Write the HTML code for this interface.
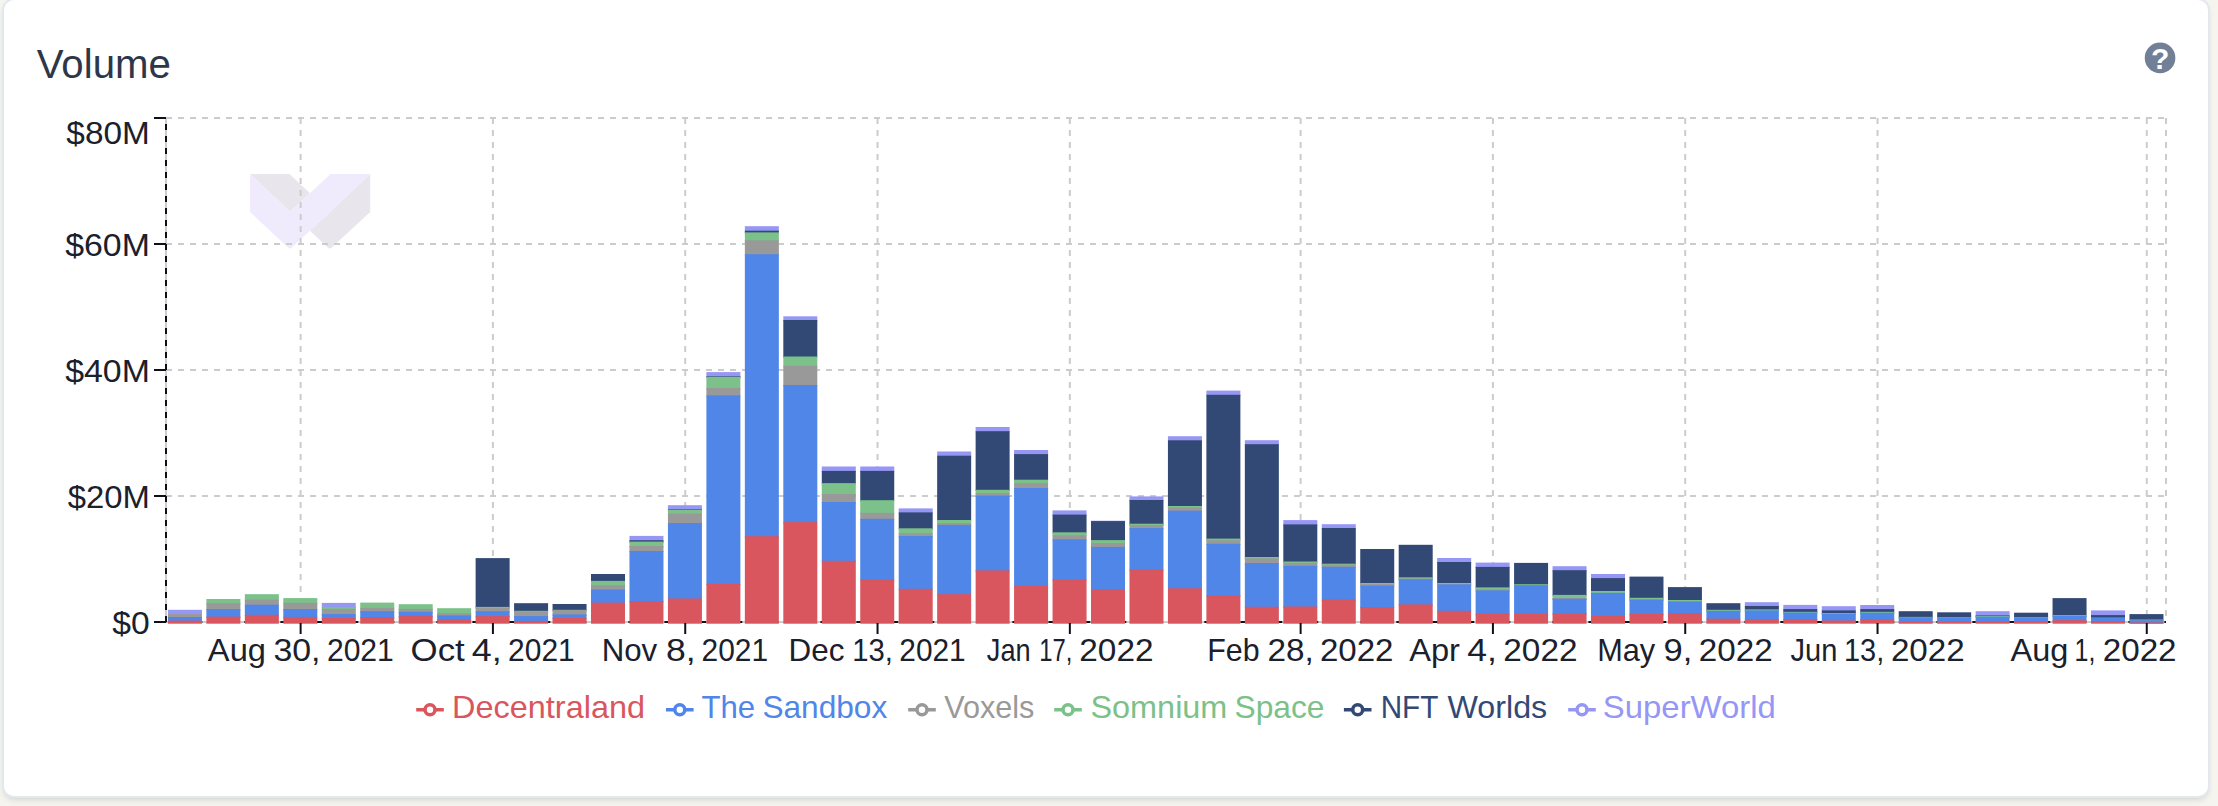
<!DOCTYPE html>
<html lang="en"><head><meta charset="utf-8"><title>Volume</title>
<style>
html,body{margin:0;padding:0}
body{width:2218px;height:806px;overflow:hidden;background:#f6f4ee;position:relative;font-family:"Liberation Sans",sans-serif}
.card{position:absolute;left:2px;top:-2px;width:2204px;height:796px;background:#fff;border:2px solid #e2e8f0;border-radius:12px;
box-shadow:0 4px 7px -2px rgba(0,0,0,.11),0 2px 4px -2px rgba(0,0,0,.06)}
svg{position:absolute;left:0;top:0}
text{font-family:"Liberation Sans",sans-serif}
</style></head><body>
<div class="card"></div>
<svg width="2218" height="806" viewBox="0 0 2218 806">
<text font-size="41" y="77.9" fill="#2d3748"><tspan x="36.77" textLength="134.13" lengthAdjust="spacingAndGlyphs">Volume</tspan></text>
<g><circle cx="2160.05" cy="57.9" r="15.3" fill="#718096"/>
<text x="2160.2" y="69.3" font-size="30" font-weight="bold" fill="#fff" text-anchor="middle">?</text></g>
<g id="wm">
<path d="M250.1,174 L289.5,174 L310,193.2 L289.9,211.8 Z" fill="#e8e6ec"/>
<path d="M370.2,174 L370.2,212.1 L331.5,247.8 Q329.8,249.4 328.1,247.8 L310,230.7 Z" fill="#e8e6ec"/>
<path d="M250.1,174 L289.9,211.8 L310,193.2 L330.5,174 L370.2,174 L310,230.7 L291.6,247.8 Q289.9,249.4 288.2,247.8 L250.1,212.1 Z" fill="#efebfd"/>
</g>
<g stroke="#cccccc" stroke-width="2" stroke-dasharray="6 6" fill="none">
<line x1="166.0" y1="118" x2="2166.0" y2="118"/>
<line x1="166.0" y1="244" x2="2166.0" y2="244"/>
<line x1="166.0" y1="370" x2="2166.0" y2="370"/>
<line x1="166.0" y1="496" x2="2166.0" y2="496"/>
<line x1="166.0" y1="622" x2="2166.0" y2="622"/>
<line x1="166.00" y1="118" x2="166.00" y2="622"/>
<line x1="300.62" y1="118" x2="300.62" y2="622"/>
<line x1="492.92" y1="118" x2="492.92" y2="622"/>
<line x1="685.23" y1="118" x2="685.23" y2="622"/>
<line x1="877.54" y1="118" x2="877.54" y2="622"/>
<line x1="1069.85" y1="118" x2="1069.85" y2="622"/>
<line x1="1300.62" y1="118" x2="1300.62" y2="622"/>
<line x1="1492.92" y1="118" x2="1492.92" y2="622"/>
<line x1="1685.23" y1="118" x2="1685.23" y2="622"/>
<line x1="1877.54" y1="118" x2="1877.54" y2="622"/>
<line x1="2146.77" y1="118" x2="2146.77" y2="622"/>
<line x1="2166.00" y1="118" x2="2166.00" y2="622"/>
</g>
<g stroke="#0d1117" stroke-width="2" fill="none">
<line x1="166" y1="622" x2="166" y2="118" stroke-dasharray="6 6"/>
<line x1="166" y1="622" x2="2166" y2="622" stroke-dasharray="6 6" stroke-dashoffset="5.7"/>
<line x1="154" y1="118" x2="166" y2="118"/>
<line x1="154" y1="244" x2="166" y2="244"/>
<line x1="154" y1="370" x2="166" y2="370"/>
<line x1="154" y1="496" x2="166" y2="496"/>
<line x1="154" y1="622" x2="166" y2="622"/>
</g>
<g>
<rect x="167.93" y="609.80" width="34.00" height="5.50" fill="#9696f5"/>
<rect x="167.93" y="614.10" width="34.00" height="4.10" fill="#999999"/>
<rect x="167.93" y="617.00" width="34.00" height="4.80" fill="#4f86e8"/>
<rect x="167.93" y="620.60" width="34.00" height="3.10" fill="#d9565e"/>
<rect x="206.39" y="599.00" width="34.00" height="5.50" fill="#7bc189"/>
<rect x="206.39" y="603.30" width="34.00" height="7.00" fill="#999999"/>
<rect x="206.39" y="609.10" width="34.00" height="8.70" fill="#4f86e8"/>
<rect x="206.39" y="616.60" width="34.00" height="7.10" fill="#d9565e"/>
<rect x="244.85" y="594.20" width="34.00" height="6.70" fill="#7bc189"/>
<rect x="244.85" y="599.70" width="34.00" height="6.20" fill="#999999"/>
<rect x="244.85" y="604.70" width="34.00" height="11.30" fill="#4f86e8"/>
<rect x="244.85" y="614.80" width="34.00" height="8.90" fill="#d9565e"/>
<rect x="283.31" y="598.10" width="34.00" height="6.00" fill="#7bc189"/>
<rect x="283.31" y="602.90" width="34.00" height="7.40" fill="#999999"/>
<rect x="283.31" y="609.10" width="34.00" height="9.00" fill="#4f86e8"/>
<rect x="283.31" y="616.90" width="34.00" height="6.80" fill="#d9565e"/>
<rect x="321.78" y="602.90" width="34.00" height="5.20" fill="#9696f5"/>
<rect x="321.78" y="606.90" width="34.00" height="3.20" fill="#7bc189"/>
<rect x="321.78" y="608.90" width="34.00" height="6.40" fill="#999999"/>
<rect x="321.78" y="614.10" width="34.00" height="5.10" fill="#4f86e8"/>
<rect x="321.78" y="618.00" width="34.00" height="5.70" fill="#d9565e"/>
<rect x="360.24" y="602.60" width="34.00" height="6.50" fill="#7bc189"/>
<rect x="360.24" y="607.90" width="34.00" height="4.50" fill="#999999"/>
<rect x="360.24" y="611.20" width="34.00" height="7.00" fill="#4f86e8"/>
<rect x="360.24" y="617.00" width="34.00" height="6.70" fill="#d9565e"/>
<rect x="398.70" y="604.20" width="34.00" height="5.90" fill="#7bc189"/>
<rect x="398.70" y="608.90" width="34.00" height="4.10" fill="#999999"/>
<rect x="398.70" y="611.80" width="34.00" height="5.50" fill="#4f86e8"/>
<rect x="398.70" y="616.10" width="34.00" height="7.60" fill="#d9565e"/>
<rect x="437.16" y="608.20" width="34.00" height="6.30" fill="#7bc189"/>
<rect x="437.16" y="613.30" width="34.00" height="3.30" fill="#999999"/>
<rect x="437.16" y="615.40" width="34.00" height="5.30" fill="#4f86e8"/>
<rect x="437.16" y="619.50" width="34.00" height="4.20" fill="#d9565e"/>
<rect x="475.62" y="558.10" width="34.00" height="50.00" fill="#334975"/>
<rect x="475.62" y="606.90" width="34.00" height="2.20" fill="#7bc189"/>
<rect x="475.62" y="607.90" width="34.00" height="4.50" fill="#999999"/>
<rect x="475.62" y="611.20" width="34.00" height="6.10" fill="#4f86e8"/>
<rect x="475.62" y="616.10" width="34.00" height="7.60" fill="#d9565e"/>
<rect x="514.08" y="603.20" width="34.00" height="8.80" fill="#334975"/>
<rect x="514.08" y="610.80" width="34.00" height="1.90" fill="#7bc189"/>
<rect x="514.08" y="611.50" width="34.00" height="5.80" fill="#999999"/>
<rect x="514.08" y="616.10" width="34.00" height="6.00" fill="#4f86e8"/>
<rect x="514.08" y="620.90" width="34.00" height="2.80" fill="#d9565e"/>
<rect x="552.55" y="604.00" width="34.00" height="7.00" fill="#334975"/>
<rect x="552.55" y="609.80" width="34.00" height="1.50" fill="#7bc189"/>
<rect x="552.55" y="610.10" width="34.00" height="5.50" fill="#999999"/>
<rect x="552.55" y="614.40" width="34.00" height="4.80" fill="#4f86e8"/>
<rect x="552.55" y="618.00" width="34.00" height="5.70" fill="#d9565e"/>
<rect x="591.01" y="574.00" width="34.00" height="8.10" fill="#334975"/>
<rect x="591.01" y="580.90" width="34.00" height="5.60" fill="#7bc189"/>
<rect x="591.01" y="585.30" width="34.00" height="5.40" fill="#999999"/>
<rect x="591.01" y="589.50" width="34.00" height="14.30" fill="#4f86e8"/>
<rect x="591.01" y="602.60" width="34.00" height="21.10" fill="#d9565e"/>
<rect x="629.47" y="535.90" width="34.00" height="5.50" fill="#9696f5"/>
<rect x="629.47" y="540.20" width="34.00" height="2.60" fill="#334975"/>
<rect x="629.47" y="541.60" width="34.00" height="5.60" fill="#7bc189"/>
<rect x="629.47" y="546.00" width="34.00" height="6.20" fill="#999999"/>
<rect x="629.47" y="551.00" width="34.00" height="51.30" fill="#4f86e8"/>
<rect x="629.47" y="601.10" width="34.00" height="22.60" fill="#d9565e"/>
<rect x="667.93" y="505.20" width="34.00" height="5.40" fill="#9696f5"/>
<rect x="667.93" y="509.40" width="34.00" height="1.70" fill="#334975"/>
<rect x="667.93" y="509.90" width="34.00" height="4.90" fill="#7bc189"/>
<rect x="667.93" y="513.60" width="34.00" height="10.70" fill="#999999"/>
<rect x="667.93" y="523.10" width="34.00" height="76.60" fill="#4f86e8"/>
<rect x="667.93" y="598.50" width="34.00" height="25.20" fill="#d9565e"/>
<rect x="706.39" y="372.10" width="34.00" height="5.40" fill="#9696f5"/>
<rect x="706.39" y="376.30" width="34.00" height="1.70" fill="#334975"/>
<rect x="706.39" y="376.80" width="34.00" height="12.40" fill="#7bc189"/>
<rect x="706.39" y="388.00" width="34.00" height="8.60" fill="#999999"/>
<rect x="706.39" y="395.40" width="34.00" height="189.60" fill="#4f86e8"/>
<rect x="706.39" y="583.80" width="34.00" height="39.90" fill="#d9565e"/>
<rect x="744.85" y="226.20" width="34.00" height="5.70" fill="#9696f5"/>
<rect x="744.85" y="230.70" width="34.00" height="2.90" fill="#334975"/>
<rect x="744.85" y="232.40" width="34.00" height="9.10" fill="#7bc189"/>
<rect x="744.85" y="240.30" width="34.00" height="15.10" fill="#999999"/>
<rect x="744.85" y="254.20" width="34.00" height="283.20" fill="#4f86e8"/>
<rect x="744.85" y="536.20" width="34.00" height="87.50" fill="#d9565e"/>
<rect x="783.31" y="316.30" width="34.00" height="4.90" fill="#9696f5"/>
<rect x="783.31" y="320.00" width="34.00" height="37.70" fill="#334975"/>
<rect x="783.31" y="356.50" width="34.00" height="10.60" fill="#7bc189"/>
<rect x="783.31" y="365.90" width="34.00" height="20.30" fill="#999999"/>
<rect x="783.31" y="385.00" width="34.00" height="138.30" fill="#4f86e8"/>
<rect x="783.31" y="522.10" width="34.00" height="101.60" fill="#d9565e"/>
<rect x="821.78" y="466.50" width="34.00" height="5.60" fill="#9696f5"/>
<rect x="821.78" y="470.90" width="34.00" height="13.40" fill="#334975"/>
<rect x="821.78" y="483.10" width="34.00" height="12.10" fill="#7bc189"/>
<rect x="821.78" y="494.00" width="34.00" height="9.20" fill="#999999"/>
<rect x="821.78" y="502.00" width="34.00" height="60.00" fill="#4f86e8"/>
<rect x="821.78" y="560.80" width="34.00" height="62.90" fill="#d9565e"/>
<rect x="860.24" y="466.50" width="34.00" height="5.60" fill="#9696f5"/>
<rect x="860.24" y="470.90" width="34.00" height="30.50" fill="#334975"/>
<rect x="860.24" y="500.20" width="34.00" height="13.90" fill="#7bc189"/>
<rect x="860.24" y="512.90" width="34.00" height="7.10" fill="#999999"/>
<rect x="860.24" y="518.80" width="34.00" height="62.00" fill="#4f86e8"/>
<rect x="860.24" y="579.60" width="34.00" height="44.10" fill="#d9565e"/>
<rect x="898.70" y="508.40" width="34.00" height="5.20" fill="#9696f5"/>
<rect x="898.70" y="512.40" width="34.00" height="17.10" fill="#334975"/>
<rect x="898.70" y="528.30" width="34.00" height="6.10" fill="#7bc189"/>
<rect x="898.70" y="533.20" width="34.00" height="4.00" fill="#999999"/>
<rect x="898.70" y="536.00" width="34.00" height="54.00" fill="#4f86e8"/>
<rect x="898.70" y="588.80" width="34.00" height="34.90" fill="#d9565e"/>
<rect x="937.16" y="451.50" width="34.00" height="5.40" fill="#9696f5"/>
<rect x="937.16" y="455.70" width="34.00" height="65.50" fill="#334975"/>
<rect x="937.16" y="520.00" width="34.00" height="4.20" fill="#7bc189"/>
<rect x="937.16" y="523.00" width="34.00" height="3.10" fill="#999999"/>
<rect x="937.16" y="524.90" width="34.00" height="70.50" fill="#4f86e8"/>
<rect x="937.16" y="594.20" width="34.00" height="29.50" fill="#d9565e"/>
<rect x="975.62" y="427.00" width="34.00" height="5.40" fill="#9696f5"/>
<rect x="975.62" y="431.20" width="34.00" height="59.80" fill="#334975"/>
<rect x="975.62" y="489.80" width="34.00" height="4.40" fill="#7bc189"/>
<rect x="975.62" y="493.00" width="34.00" height="3.80" fill="#999999"/>
<rect x="975.62" y="495.60" width="34.00" height="76.00" fill="#4f86e8"/>
<rect x="975.62" y="570.40" width="34.00" height="53.30" fill="#d9565e"/>
<rect x="1014.08" y="450.00" width="34.00" height="5.30" fill="#9696f5"/>
<rect x="1014.08" y="454.10" width="34.00" height="26.80" fill="#334975"/>
<rect x="1014.08" y="479.70" width="34.00" height="4.60" fill="#7bc189"/>
<rect x="1014.08" y="483.10" width="34.00" height="6.10" fill="#999999"/>
<rect x="1014.08" y="488.00" width="34.00" height="99.20" fill="#4f86e8"/>
<rect x="1014.08" y="586.00" width="34.00" height="37.70" fill="#d9565e"/>
<rect x="1052.55" y="510.40" width="34.00" height="5.40" fill="#9696f5"/>
<rect x="1052.55" y="514.60" width="34.00" height="18.90" fill="#334975"/>
<rect x="1052.55" y="532.30" width="34.00" height="4.10" fill="#7bc189"/>
<rect x="1052.55" y="535.20" width="34.00" height="5.30" fill="#999999"/>
<rect x="1052.55" y="539.30" width="34.00" height="41.40" fill="#4f86e8"/>
<rect x="1052.55" y="579.50" width="34.00" height="44.20" fill="#d9565e"/>
<rect x="1091.01" y="520.70" width="34.00" height="1.60" fill="#9696f5"/>
<rect x="1091.01" y="521.10" width="34.00" height="20.20" fill="#334975"/>
<rect x="1091.01" y="540.10" width="34.00" height="4.10" fill="#7bc189"/>
<rect x="1091.01" y="543.00" width="34.00" height="5.10" fill="#999999"/>
<rect x="1091.01" y="546.90" width="34.00" height="43.40" fill="#4f86e8"/>
<rect x="1091.01" y="589.10" width="34.00" height="34.60" fill="#d9565e"/>
<rect x="1129.47" y="496.40" width="34.00" height="4.80" fill="#9696f5"/>
<rect x="1129.47" y="500.00" width="34.00" height="24.90" fill="#334975"/>
<rect x="1129.47" y="523.70" width="34.00" height="2.50" fill="#7bc189"/>
<rect x="1129.47" y="525.00" width="34.00" height="4.30" fill="#999999"/>
<rect x="1129.47" y="528.10" width="34.00" height="42.70" fill="#4f86e8"/>
<rect x="1129.47" y="569.60" width="34.00" height="54.10" fill="#d9565e"/>
<rect x="1167.93" y="436.20" width="34.00" height="5.30" fill="#9696f5"/>
<rect x="1167.93" y="440.30" width="34.00" height="66.90" fill="#334975"/>
<rect x="1167.93" y="506.00" width="34.00" height="2.70" fill="#7bc189"/>
<rect x="1167.93" y="507.50" width="34.00" height="4.40" fill="#999999"/>
<rect x="1167.93" y="510.70" width="34.00" height="78.80" fill="#4f86e8"/>
<rect x="1167.93" y="588.30" width="34.00" height="35.40" fill="#d9565e"/>
<rect x="1206.39" y="390.60" width="34.00" height="5.40" fill="#9696f5"/>
<rect x="1206.39" y="394.80" width="34.00" height="145.00" fill="#334975"/>
<rect x="1206.39" y="538.60" width="34.00" height="2.90" fill="#7bc189"/>
<rect x="1206.39" y="540.30" width="34.00" height="4.70" fill="#999999"/>
<rect x="1206.39" y="543.80" width="34.00" height="53.00" fill="#4f86e8"/>
<rect x="1206.39" y="595.60" width="34.00" height="28.10" fill="#d9565e"/>
<rect x="1244.85" y="440.20" width="34.00" height="5.20" fill="#9696f5"/>
<rect x="1244.85" y="444.20" width="34.00" height="114.00" fill="#334975"/>
<rect x="1244.85" y="557.00" width="34.00" height="2.60" fill="#7bc189"/>
<rect x="1244.85" y="558.40" width="34.00" height="5.90" fill="#999999"/>
<rect x="1244.85" y="563.10" width="34.00" height="44.90" fill="#4f86e8"/>
<rect x="1244.85" y="606.80" width="34.00" height="16.90" fill="#d9565e"/>
<rect x="1283.31" y="520.10" width="34.00" height="5.50" fill="#9696f5"/>
<rect x="1283.31" y="524.40" width="34.00" height="38.30" fill="#334975"/>
<rect x="1283.31" y="561.50" width="34.00" height="2.60" fill="#7bc189"/>
<rect x="1283.31" y="562.90" width="34.00" height="4.10" fill="#999999"/>
<rect x="1283.31" y="565.80" width="34.00" height="41.90" fill="#4f86e8"/>
<rect x="1283.31" y="606.50" width="34.00" height="17.20" fill="#d9565e"/>
<rect x="1321.78" y="524.20" width="34.00" height="5.00" fill="#9696f5"/>
<rect x="1321.78" y="528.00" width="34.00" height="36.90" fill="#334975"/>
<rect x="1321.78" y="563.70" width="34.00" height="2.10" fill="#7bc189"/>
<rect x="1321.78" y="564.60" width="34.00" height="3.40" fill="#999999"/>
<rect x="1321.78" y="566.80" width="34.00" height="34.00" fill="#4f86e8"/>
<rect x="1321.78" y="599.60" width="34.00" height="24.10" fill="#d9565e"/>
<rect x="1360.24" y="549.00" width="34.00" height="35.20" fill="#334975"/>
<rect x="1360.24" y="583.00" width="34.00" height="2.20" fill="#7bc189"/>
<rect x="1360.24" y="584.00" width="34.00" height="2.80" fill="#999999"/>
<rect x="1360.24" y="585.60" width="34.00" height="22.80" fill="#4f86e8"/>
<rect x="1360.24" y="607.20" width="34.00" height="16.50" fill="#d9565e"/>
<rect x="1398.70" y="544.80" width="34.00" height="33.70" fill="#334975"/>
<rect x="1398.70" y="577.30" width="34.00" height="2.40" fill="#7bc189"/>
<rect x="1398.70" y="578.50" width="34.00" height="1.90" fill="#999999"/>
<rect x="1398.70" y="579.20" width="34.00" height="26.40" fill="#4f86e8"/>
<rect x="1398.70" y="604.40" width="34.00" height="19.30" fill="#d9565e"/>
<rect x="1437.16" y="558.00" width="34.00" height="5.20" fill="#9696f5"/>
<rect x="1437.16" y="562.00" width="34.00" height="22.20" fill="#334975"/>
<rect x="1437.16" y="583.00" width="34.00" height="2.20" fill="#7bc189"/>
<rect x="1437.16" y="584.00" width="34.00" height="1.60" fill="#999999"/>
<rect x="1437.16" y="584.40" width="34.00" height="27.60" fill="#4f86e8"/>
<rect x="1437.16" y="610.80" width="34.00" height="12.90" fill="#d9565e"/>
<rect x="1475.62" y="562.60" width="34.00" height="5.50" fill="#9696f5"/>
<rect x="1475.62" y="566.90" width="34.00" height="21.70" fill="#334975"/>
<rect x="1475.62" y="587.40" width="34.00" height="3.20" fill="#7bc189"/>
<rect x="1475.62" y="589.40" width="34.00" height="2.20" fill="#999999"/>
<rect x="1475.62" y="590.40" width="34.00" height="24.70" fill="#4f86e8"/>
<rect x="1475.62" y="613.90" width="34.00" height="9.80" fill="#d9565e"/>
<rect x="1514.08" y="562.90" width="34.00" height="22.50" fill="#334975"/>
<rect x="1514.08" y="584.20" width="34.00" height="2.20" fill="#7bc189"/>
<rect x="1514.08" y="585.20" width="34.00" height="29.80" fill="#4f86e8"/>
<rect x="1514.08" y="613.80" width="34.00" height="9.90" fill="#d9565e"/>
<rect x="1552.55" y="566.20" width="34.00" height="5.20" fill="#9696f5"/>
<rect x="1552.55" y="570.20" width="34.00" height="25.90" fill="#334975"/>
<rect x="1552.55" y="594.90" width="34.00" height="4.30" fill="#7bc189"/>
<rect x="1552.55" y="598.00" width="34.00" height="1.90" fill="#999999"/>
<rect x="1552.55" y="598.70" width="34.00" height="16.00" fill="#4f86e8"/>
<rect x="1552.55" y="613.50" width="34.00" height="10.20" fill="#d9565e"/>
<rect x="1591.01" y="574.00" width="34.00" height="5.30" fill="#9696f5"/>
<rect x="1591.01" y="578.10" width="34.00" height="14.10" fill="#334975"/>
<rect x="1591.01" y="591.00" width="34.00" height="3.00" fill="#7bc189"/>
<rect x="1591.01" y="592.80" width="34.00" height="24.40" fill="#4f86e8"/>
<rect x="1591.01" y="616.00" width="34.00" height="7.70" fill="#d9565e"/>
<rect x="1629.47" y="576.60" width="34.00" height="22.40" fill="#334975"/>
<rect x="1629.47" y="597.80" width="34.00" height="2.40" fill="#7bc189"/>
<rect x="1629.47" y="599.00" width="34.00" height="1.90" fill="#999999"/>
<rect x="1629.47" y="599.70" width="34.00" height="15.50" fill="#4f86e8"/>
<rect x="1629.47" y="614.00" width="34.00" height="9.70" fill="#d9565e"/>
<rect x="1667.93" y="587.10" width="34.00" height="14.10" fill="#334975"/>
<rect x="1667.93" y="600.00" width="34.00" height="2.60" fill="#7bc189"/>
<rect x="1667.93" y="601.40" width="34.00" height="12.90" fill="#4f86e8"/>
<rect x="1667.93" y="613.10" width="34.00" height="10.60" fill="#d9565e"/>
<rect x="1706.39" y="603.20" width="34.00" height="7.80" fill="#334975"/>
<rect x="1706.39" y="609.80" width="34.00" height="2.20" fill="#7bc189"/>
<rect x="1706.39" y="610.80" width="34.00" height="9.10" fill="#4f86e8"/>
<rect x="1706.39" y="618.70" width="34.00" height="5.00" fill="#d9565e"/>
<rect x="1744.85" y="602.20" width="34.00" height="5.00" fill="#9696f5"/>
<rect x="1744.85" y="606.00" width="34.00" height="4.60" fill="#334975"/>
<rect x="1744.85" y="609.40" width="34.00" height="2.20" fill="#7bc189"/>
<rect x="1744.85" y="610.40" width="34.00" height="9.80" fill="#4f86e8"/>
<rect x="1744.85" y="619.00" width="34.00" height="4.70" fill="#d9565e"/>
<rect x="1783.31" y="604.90" width="34.00" height="5.40" fill="#9696f5"/>
<rect x="1783.31" y="609.10" width="34.00" height="3.90" fill="#334975"/>
<rect x="1783.31" y="611.80" width="34.00" height="1.90" fill="#7bc189"/>
<rect x="1783.31" y="612.50" width="34.00" height="8.00" fill="#4f86e8"/>
<rect x="1783.31" y="619.30" width="34.00" height="4.40" fill="#d9565e"/>
<rect x="1821.78" y="606.20" width="34.00" height="5.40" fill="#9696f5"/>
<rect x="1821.78" y="610.40" width="34.00" height="3.80" fill="#334975"/>
<rect x="1821.78" y="613.00" width="34.00" height="1.90" fill="#7bc189"/>
<rect x="1821.78" y="613.70" width="34.00" height="8.00" fill="#4f86e8"/>
<rect x="1821.78" y="620.50" width="34.00" height="3.20" fill="#d9565e"/>
<rect x="1860.24" y="605.00" width="34.00" height="5.30" fill="#9696f5"/>
<rect x="1860.24" y="609.10" width="34.00" height="3.90" fill="#334975"/>
<rect x="1860.24" y="611.80" width="34.00" height="2.10" fill="#7bc189"/>
<rect x="1860.24" y="612.70" width="34.00" height="7.50" fill="#4f86e8"/>
<rect x="1860.24" y="619.00" width="34.00" height="4.70" fill="#d9565e"/>
<rect x="1898.70" y="611.20" width="34.00" height="6.90" fill="#334975"/>
<rect x="1898.70" y="616.90" width="34.00" height="1.60" fill="#7bc189"/>
<rect x="1898.70" y="617.30" width="34.00" height="5.80" fill="#4f86e8"/>
<rect x="1898.70" y="621.90" width="34.00" height="1.80" fill="#d9565e"/>
<rect x="1937.16" y="612.30" width="34.00" height="6.10" fill="#334975"/>
<rect x="1937.16" y="617.20" width="34.00" height="1.60" fill="#7bc189"/>
<rect x="1937.16" y="617.60" width="34.00" height="5.50" fill="#4f86e8"/>
<rect x="1937.16" y="621.90" width="34.00" height="1.80" fill="#d9565e"/>
<rect x="1975.62" y="611.20" width="34.00" height="5.40" fill="#9696f5"/>
<rect x="1975.62" y="615.40" width="34.00" height="1.70" fill="#334975"/>
<rect x="1975.62" y="615.90" width="34.00" height="1.90" fill="#7bc189"/>
<rect x="1975.62" y="616.60" width="34.00" height="5.90" fill="#4f86e8"/>
<rect x="1975.62" y="621.30" width="34.00" height="2.40" fill="#d9565e"/>
<rect x="2014.08" y="612.70" width="34.00" height="5.70" fill="#334975"/>
<rect x="2014.08" y="617.20" width="34.00" height="1.60" fill="#7bc189"/>
<rect x="2014.08" y="617.60" width="34.00" height="5.50" fill="#4f86e8"/>
<rect x="2014.08" y="621.90" width="34.00" height="1.80" fill="#d9565e"/>
<rect x="2052.55" y="598.10" width="34.00" height="18.20" fill="#334975"/>
<rect x="2052.55" y="615.10" width="34.00" height="2.00" fill="#7bc189"/>
<rect x="2052.55" y="615.90" width="34.00" height="5.50" fill="#4f86e8"/>
<rect x="2052.55" y="620.20" width="34.00" height="3.50" fill="#d9565e"/>
<rect x="2091.01" y="610.40" width="34.00" height="5.90" fill="#9696f5"/>
<rect x="2091.01" y="615.10" width="34.00" height="3.40" fill="#334975"/>
<rect x="2091.01" y="617.30" width="34.00" height="5.10" fill="#4f86e8"/>
<rect x="2091.01" y="621.20" width="34.00" height="2.50" fill="#d9565e"/>
<rect x="2129.47" y="614.10" width="34.00" height="6.60" fill="#334975"/>
<rect x="2129.47" y="619.50" width="34.00" height="1.90" fill="#7bc189"/>
<rect x="2129.47" y="620.20" width="34.00" height="3.40" fill="#4f86e8"/>
<rect x="2129.47" y="622.40" width="34.00" height="1.30" fill="#d9565e"/>
</g>
<g stroke="#0d1117" stroke-width="2" fill="none">
<line x1="300.62" y1="623" x2="300.62" y2="634"/>
<line x1="492.92" y1="623" x2="492.92" y2="634"/>
<line x1="685.23" y1="623" x2="685.23" y2="634"/>
<line x1="877.54" y1="623" x2="877.54" y2="634"/>
<line x1="1069.85" y1="623" x2="1069.85" y2="634"/>
<line x1="1300.62" y1="623" x2="1300.62" y2="634"/>
<line x1="1492.92" y1="623" x2="1492.92" y2="634"/>
<line x1="1685.23" y1="623" x2="1685.23" y2="634"/>
<line x1="1877.54" y1="623" x2="1877.54" y2="634"/>
<line x1="2146.77" y1="623" x2="2146.77" y2="634"/>
</g>
<g font-size="32" fill="#1a202c">
<text y="660.8"><tspan x="207.89" textLength="58.05" lengthAdjust="spacingAndGlyphs">Aug</tspan> <tspan x="273.46" textLength="47.08" lengthAdjust="spacingAndGlyphs">30,</tspan> <tspan x="326.90" textLength="66.95" lengthAdjust="spacingAndGlyphs">2021</tspan></text>
<text y="660.8"><tspan x="410.58" textLength="54.14" lengthAdjust="spacingAndGlyphs">Oct</tspan> <tspan x="471.86" textLength="29.86" lengthAdjust="spacingAndGlyphs">4,</tspan> <tspan x="508.10" textLength="66.63" lengthAdjust="spacingAndGlyphs">2021</tspan></text>
<text y="660.8"><tspan x="601.70" textLength="55.55" lengthAdjust="spacingAndGlyphs">Nov</tspan> <tspan x="666.06" textLength="29.64" lengthAdjust="spacingAndGlyphs">8,</tspan> <tspan x="701.50" textLength="66.53" lengthAdjust="spacingAndGlyphs">2021</tspan></text>
<text y="660.8"><tspan x="788.49" textLength="55.90" lengthAdjust="spacingAndGlyphs">Dec</tspan> <tspan x="852.16" textLength="40.68" lengthAdjust="spacingAndGlyphs">13,</tspan> <tspan x="899.31" textLength="66.42" lengthAdjust="spacingAndGlyphs">2021</tspan></text>
<text y="660.8"><tspan x="986.85" textLength="43.85" lengthAdjust="spacingAndGlyphs">Jan</tspan> <tspan x="1039.17" textLength="33.09" lengthAdjust="spacingAndGlyphs">17,</tspan> <tspan x="1079.33" textLength="74.16" lengthAdjust="spacingAndGlyphs">2022</tspan></text>
<text y="660.8"><tspan x="1207.27" textLength="52.34" lengthAdjust="spacingAndGlyphs">Feb</tspan> <tspan x="1267.54" textLength="46.25" lengthAdjust="spacingAndGlyphs">28,</tspan> <tspan x="1319.95" textLength="73.54" lengthAdjust="spacingAndGlyphs">2022</tspan></text>
<text y="660.8"><tspan x="1409.19" textLength="50.74" lengthAdjust="spacingAndGlyphs">Apr</tspan> <tspan x="1467.37" textLength="29.63" lengthAdjust="spacingAndGlyphs">4,</tspan> <tspan x="1503.33" textLength="74.16" lengthAdjust="spacingAndGlyphs">2022</tspan></text>
<text y="660.8"><tspan x="1597.14" textLength="58.03" lengthAdjust="spacingAndGlyphs">May</tspan> <tspan x="1663.49" textLength="28.83" lengthAdjust="spacingAndGlyphs">9,</tspan> <tspan x="1698.84" textLength="73.85" lengthAdjust="spacingAndGlyphs">2022</tspan></text>
<text y="660.8"><tspan x="1790.62" textLength="46.79" lengthAdjust="spacingAndGlyphs">Jun</tspan> <tspan x="1843.98" textLength="40.23" lengthAdjust="spacingAndGlyphs">13,</tspan> <tspan x="1890.94" textLength="73.75" lengthAdjust="spacingAndGlyphs">2022</tspan></text>
<text y="660.8"><tspan x="2010.59" textLength="57.84" lengthAdjust="spacingAndGlyphs">Aug</tspan> <tspan x="2074.59" textLength="20.79" lengthAdjust="spacingAndGlyphs">1,</tspan> <tspan x="2102.74" textLength="73.85" lengthAdjust="spacingAndGlyphs">2022</tspan></text>
<text y="143.8"><tspan x="66.37" textLength="83.44" lengthAdjust="spacingAndGlyphs">$80M</tspan></text>
<text y="255.8"><tspan x="65.16" textLength="84.68" lengthAdjust="spacingAndGlyphs">$60M</tspan></text>
<text y="381.8"><tspan x="65.16" textLength="84.68" lengthAdjust="spacingAndGlyphs">$40M</tspan></text>
<text y="507.8"><tspan x="67.67" textLength="82.09" lengthAdjust="spacingAndGlyphs">$20M</tspan></text>
<text y="633.8"><tspan x="112.26" textLength="37.45" lengthAdjust="spacingAndGlyphs">$0</tspan></text>
</g>
<g font-size="32">
<g stroke="#d9565e" stroke-width="3.6" fill="none"><path d="M416.2,709.8h8.8M435.0,709.8h8.8"/><circle cx="430.0" cy="709.8" r="5"/></g>
<text y="717.6" fill="#d9565e"><tspan x="452.11" textLength="192.89" lengthAdjust="spacingAndGlyphs">Decentraland</tspan></text>
<g stroke="#4f86e8" stroke-width="3.6" fill="none"><path d="M666.0,709.8h8.8M684.8,709.8h8.8"/><circle cx="679.8" cy="709.8" r="5"/></g>
<text y="717.6" fill="#4f86e8"><tspan x="701.38" textLength="53.67" lengthAdjust="spacingAndGlyphs">The</tspan> <tspan x="762.42" textLength="124.82" lengthAdjust="spacingAndGlyphs">Sandbox</tspan></text>
<g stroke="#999999" stroke-width="3.6" fill="none"><path d="M908.2,709.8h8.8M927.0,709.8h8.8"/><circle cx="922.0" cy="709.8" r="5"/></g>
<text y="717.6" fill="#999999"><tspan x="944.30" textLength="90.11" lengthAdjust="spacingAndGlyphs">Voxels</tspan></text>
<g stroke="#7bc189" stroke-width="3.6" fill="none"><path d="M1054.2,709.8h8.8M1073.0,709.8h8.8"/><circle cx="1068.0" cy="709.8" r="5"/></g>
<text y="717.6" fill="#7bc189"><tspan x="1090.49" textLength="136.88" lengthAdjust="spacingAndGlyphs">Somnium</tspan> <tspan x="1234.52" textLength="89.91" lengthAdjust="spacingAndGlyphs">Space</tspan></text>
<g stroke="#334975" stroke-width="3.6" fill="none"><path d="M1343.9,709.8h8.8M1362.7,709.8h8.8"/><circle cx="1357.7" cy="709.8" r="5"/></g>
<text y="717.6" fill="#334975"><tspan x="1380.65" textLength="57.16" lengthAdjust="spacingAndGlyphs">NFT</tspan> <tspan x="1447.49" textLength="99.69" lengthAdjust="spacingAndGlyphs">Worlds</tspan></text>
<g stroke="#9696f5" stroke-width="3.6" fill="none"><path d="M1568.2,709.8h8.8M1587.0,709.8h8.8"/><circle cx="1582.0" cy="709.8" r="5"/></g>
<text y="717.6" fill="#9696f5"><tspan x="1602.87" textLength="172.96" lengthAdjust="spacingAndGlyphs">SuperWorld</tspan></text>
</g>
</svg>
</body></html>
